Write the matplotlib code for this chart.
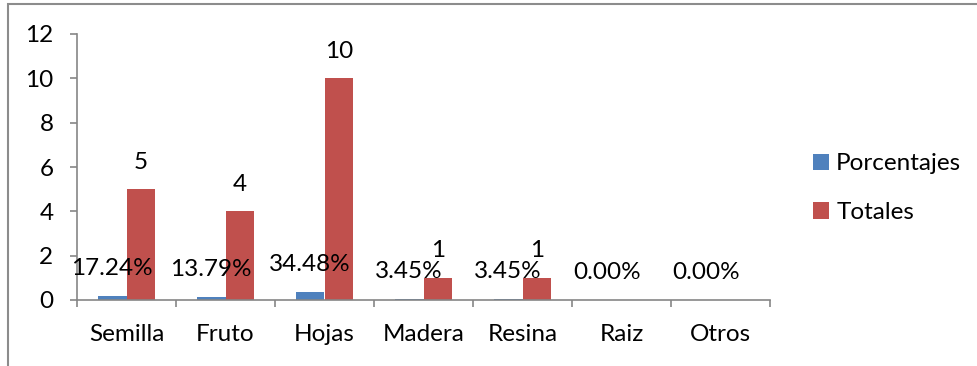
import numpy as np
import matplotlib
matplotlib.use("Agg")
import matplotlib.pyplot as plt
from matplotlib.patches import Rectangle

# usos de la planta
categorias = ["Semilla", "Fruto", "Hojas", "Madera", "Resina", "Raiz", "Otros"]
porcentajes = [0.1724, 0.1379, 0.3448, 0.0345, 0.0345, 0.0, 0.0]
totales = [5, 4, 10, 1, 1, np.nan, np.nan]

azul = "#4F81BD"
rojo = "#C0504D"
gris = "#868686"
fs = 17.5

plt.rcParams["font.family"] = ["Lato", "DejaVu Sans"]

fig = plt.figure(figsize=(9.77, 3.66), dpi=100)
ax = fig.add_axes([77 / 977, 1 - 300 / 366, (770 - 77) / 977, (300 - 34) / 366])

x = np.arange(len(categorias))
w = 0.29
b1 = ax.bar(x - w / 2, porcentajes, w, color=azul, label="Porcentajes")
b2 = ax.bar(x + w / 2, totales, w, color=rojo, label="Totales")

# etiquetas de datos
for xi, p in zip(x, porcentajes):
    ax.annotate(f"{p * 100:.2f}%", (xi - w / 2, p), xytext=(0, 20), textcoords="offset points",
                ha="center", va="center", fontsize=fs)
for xi, t in zip(x, totales):
    if np.isnan(t):
        continue
    ax.annotate(f"{t:g}", (xi + w / 2, t), xytext=(0, 19.5), textcoords="offset points",
                ha="center", va="center", fontsize=fs)

ax.set_xlim(-0.5, len(categorias) - 0.5)
ax.set_ylim(0, 12)
ax.set_yticks(range(0, 13, 2))
ax.set_xticks(np.arange(len(categorias) + 1) - 0.5, minor=False)
ax.set_xticklabels([])
ax.set_xticks(x, minor=True)
ax.set_xticklabels(categorias, minor=True, fontsize=fs)
ax.tick_params(axis="x", which="minor", length=0, pad=17)
ax.tick_params(axis="x", which="major", length=5, width=1.2, color=gris, direction="out")
ax.tick_params(axis="y", length=5, width=1.2, color=gris, pad=12, labelsize=fs)

for s in ["top", "right"]:
    ax.spines[s].set_visible(False)
for s in ["left", "bottom"]:
    ax.spines[s].set_color(gris)
    ax.spines[s].set_linewidth(1.2)

leg = fig.legend(handles=[b1, b2], loc="upper left", bbox_to_anchor=(801 / 977, 1 - 141 / 366),
                 frameon=False, fontsize=fs, handlelength=0.65, handleheight=0.65,
                 handletextpad=0.3, labelspacing=1.15, borderpad=0)

# marco exterior del grafico
fig.add_artist(Rectangle((8 / 977, -0.1), 1.1, 1 - 4 / 366 + 0.1, transform=fig.transFigure,
                         fill=False, edgecolor="#8c8c8c", linewidth=1.5))

fig.savefig("out.png", dpi=100)
